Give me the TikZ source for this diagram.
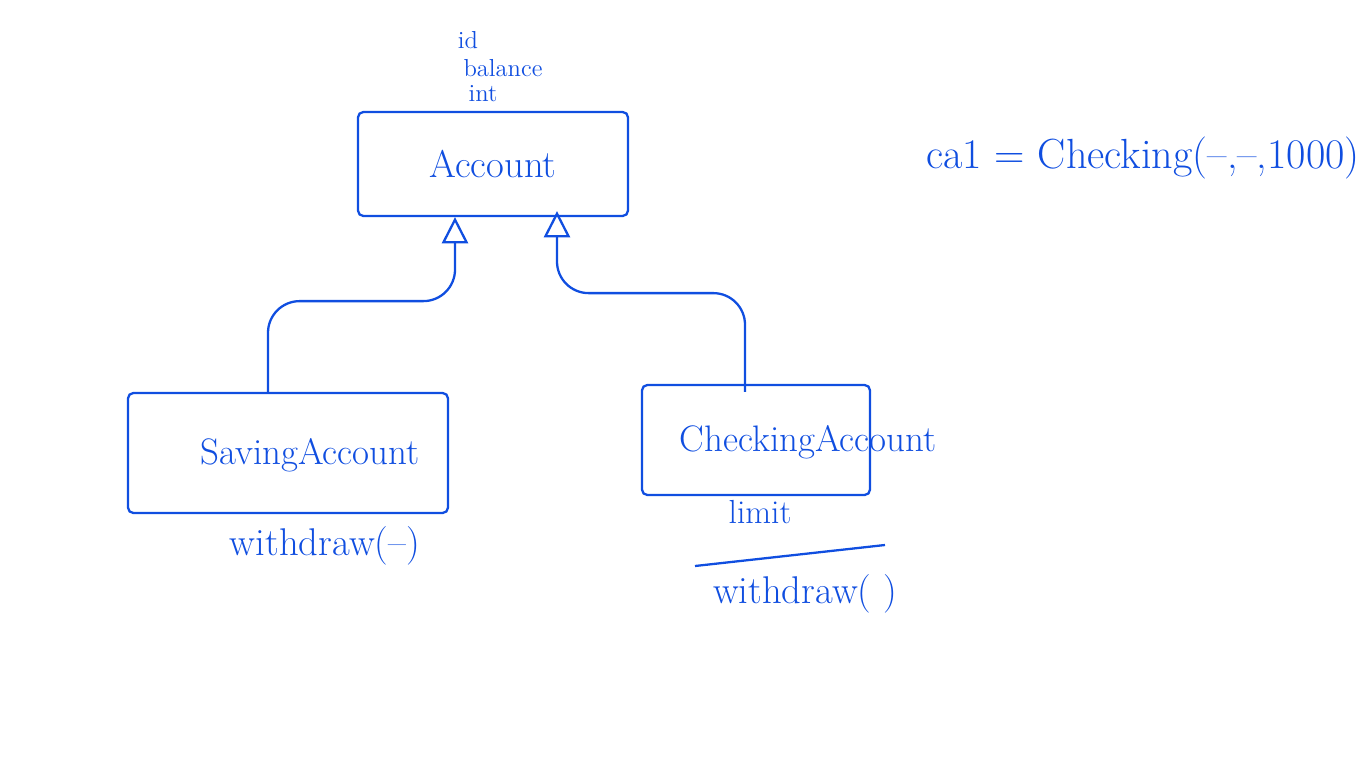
\documentclass[tikz,border=0pt]{standalone}
\usetikzlibrary{positioning,arrows.meta}

\definecolor{ink}{RGB}{16,78,224}

\tikzstyle{classbox} = [draw=ink, line width=1.3pt, rectangle, rounded corners=3pt,
    inner sep=0pt, text=ink]
\tikzstyle{hand} = [text=ink, inner sep=1pt]
\tikzstyle{inherit} = [draw=ink, line width=1.3pt, rounded corners=18pt,
    -{Triangle[open, length=15pt, width=15pt]}]

\begin{document}
\begin{tikzpicture}[x=0.02cm, y=-0.02cm]
    \useasboundingbox (0,0) rectangle (1366,768);

%------------ Klassen ---------------------
    \node [classbox, minimum width=5.4cm, minimum height=2.08cm] (acc) at (493,164)
        {\fontsize{22}{26}\selectfont Account};
    \node [classbox, minimum width=6.4cm, minimum height=2.4cm] (sav) at (288,453) {};
    \node [hand] (savtxt) at (310,455) {\fontsize{21}{25}\selectfont SavingAccount};
    \node [classbox, minimum width=4.56cm, minimum height=2.2cm] (chk) at (756,440) {};
    \node [hand] (chktxt) at (808,442) {\fontsize{21}{25}\selectfont CheckingAccount};

%------------ Attribute / Methoden ---------------------
    \node [hand] (id) at (468,40) {\fontsize{14}{16}\selectfont id};
    \node [hand] (bal) at (503,68) {\fontsize{14}{16}\selectfont balance};
    \node [hand] (int) at (483,94) {\fontsize{14}{16}\selectfont int};

    \node [hand] (savwd) at (325,546) {\fontsize{22}{26}\selectfont withdraw(--)};
    \node [hand, below=0.05cm of chk.south, xshift=0.08cm] (lim)
        {\fontsize{19}{22}\selectfont limit};
    \coordinate (sepl) at (695,566);
    \coordinate (sepr) at (885,545);
    \draw [ink, line width=1.3pt] (sepl) -- (sepr);
    \node [hand] (chkwd) at (805,594) {\fontsize{22}{26}\selectfont withdraw( )};

%------------ Vererbung ---------------------
    \coordinate (lft) at ([xshift=-0.76cm]acc.south);
    \coordinate (rgt) at ([xshift=1.28cm, yshift=0.12cm]acc.south);
    \draw [inherit] ([xshift=-0.4cm]sav.north) |- ([yshift=-1.68cm]lft) -- (lft);
    \draw [inherit] ([xshift=-0.22cm, yshift=-0.16cm]chk.north) |- ([yshift=-1.64cm]rgt) -- (rgt);

%------------ Objekt ---------------------
    \node [hand] (ca) at (1143,158)
        {\fontsize{24}{28}\selectfont ca1 = Checking(--,--,1000)};
\end{tikzpicture}
\end{document}
